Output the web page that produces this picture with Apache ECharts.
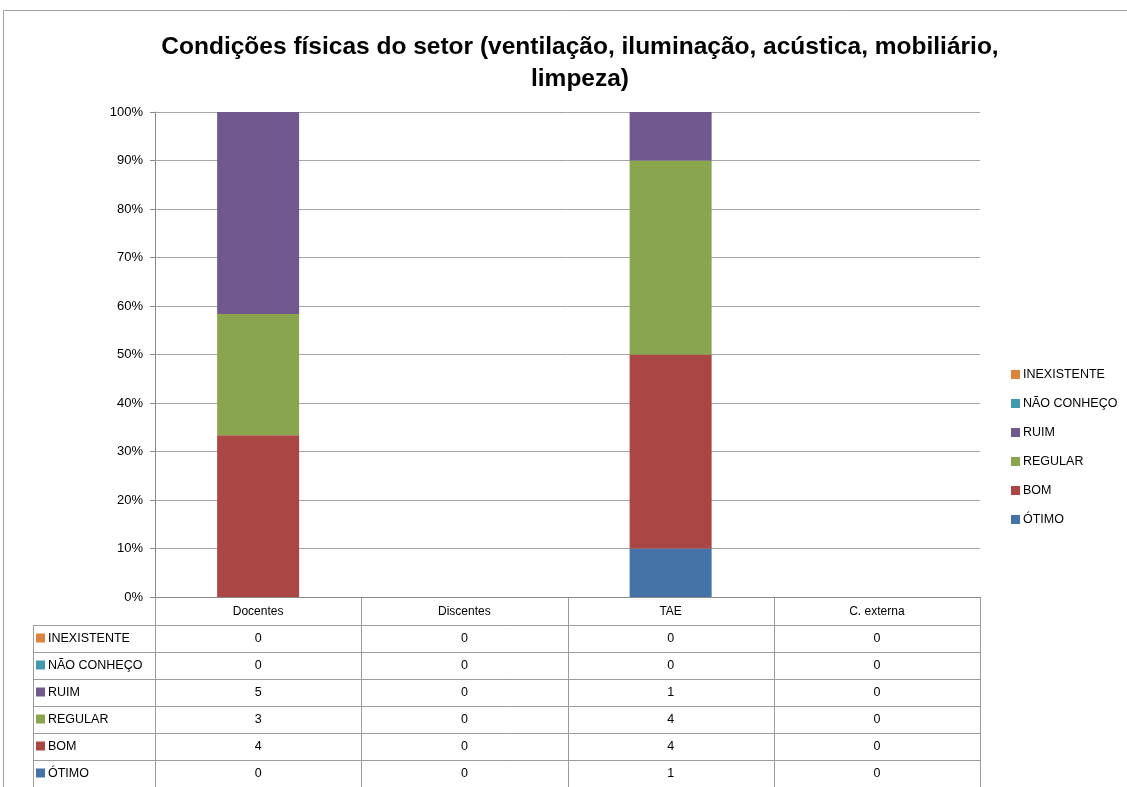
<!DOCTYPE html>
<html><head><meta charset="utf-8">
<script src="https://cdn.jsdelivr.net/npm/echarts@6/dist/echarts.min.js"></script>
<style>html,body{margin:0;padding:0;background:#fff}#chart{width:1127px;height:787px}</style>
</head><body><div id="chart"></div>
<script>
// Categories and response counts per rating
const categories = ['Docentes', 'Discentes', 'TAE', 'C. externa'];
const otimo = [0, 0, 1, 0];
const bom = [4, 0, 4, 0];
const regular = [3, 0, 4, 0];
const ruim = [5, 0, 1, 0];
const naoConheco = [0, 0, 0, 0];
const inexistente = [0, 0, 0, 0];
const yTickLabels = ['0%', '10%', '20%', '30%', '40%', '50%', '60%', '70%', '80%', '90%', '100%'];

// Stack order bottom to top
const ratings = [
  { name: 'ÓTIMO', values: otimo, color: '#4572A7' },
  { name: 'BOM', values: bom, color: '#AA4643' },
  { name: 'REGULAR', values: regular, color: '#89A54E' },
  { name: 'RUIM', values: ruim, color: '#71588F' },
  { name: 'NÃO CONHEÇO', values: naoConheco, color: '#4198AF' },
  { name: 'INEXISTENTE', values: inexistente, color: '#DB843D' }
];

const FONT = '"Liberation Sans", Arial, sans-serif';
const LINE = '#9c9c9c';

const totals = categories.map((_, i) => ratings.reduce((s, r) => s + r.values[i], 0));
const pct = (v, i) => totals[i] ? v / totals[i] * 100 : 0;

const chart = echarts.init(document.getElementById('chart'), null, { renderer: 'canvas' });

const option = {
  animation: false,
  backgroundColor: '#fff',
  title: {
    text: 'Condições físicas do setor (ventilação, iluminação, acústica, mobiliário,\nlimpeza)',
    left: 575, top: 26, textAlign: 'center',
    textStyle: { fontFamily: FONT, fontWeight: 'bold', fontSize: 24.5, lineHeight: 32, color: '#000' }
  },
  legend: {
    orient: 'vertical', left: 1006, top: 363,
    itemWidth: 9, itemHeight: 9, itemGap: 16,
    icon: 'rect',
    data: ratings.slice().reverse().map(r => r.name),
    textStyle: { fontFamily: FONT, fontSize: 12.5, color: '#000', padding: [0, 0, 0, -2] }
  },
  grid: { left: 155, right: 147, top: 112, bottom: 190, containLabel: false },
  xAxis: {
    type: 'category', data: categories,
    axisLine: { show: true, lineStyle: { color: '#8a8a8a', width: 1 } },
    axisTick: { show: false },
    axisLabel: { fontFamily: FONT, fontSize: 12, color: '#000', margin: 9 }
  },
  yAxis: {
    type: 'value', min: 0, max: 100, interval: 10,
    axisLine: { show: true, lineStyle: { color: '#8a8a8a' } },
    axisTick: { show: true, inside: false, length: 5, lineStyle: { color: '#8a8a8a' } },
    splitLine: { lineStyle: { color: '#a6a6a6', width: 1 } },
    axisLabel: { fontFamily: FONT, fontSize: 13, color: '#000', margin: 12,
      formatter: v => yTickLabels[Math.round(v / 10)] }
  },
  series: ratings.map(r => ({
    name: r.name, type: 'bar', stack: 'total', barWidth: 82,
    itemStyle: { color: r.color },
    data: r.values.map((v, i) => pct(v, i))
  }))
};
chart.setOption(option);

// Data table below the plot, aligned to category columns
(function drawTable() {
  const c0 = chart.convertToPixel({ xAxisIndex: 0 }, 0);
  const c1 = chart.convertToPixel({ xAxisIndex: 0 }, 1);
  const band = c1 - c0;
  const edges = categories.map((_, i) => c0 - band / 2 + i * band);
  edges.push(c0 - band / 2 + categories.length * band);
  const yTop = chart.convertToPixel({ yAxisIndex: 0 }, 0);
  const headerH = 28, rowH = 27;
  const tableLeft = 33;
  const rows = ratings.slice().reverse();
  const firstRowY = yTop + headerH;
  const bottomY = firstRowY + rows.length * rowH;
  const els = [];
  const line = (x1, y1, x2, y2) => els.push({ type: 'line', shape: { x1, y1, x2, y2 }, style: { stroke: LINE, lineWidth: 1 }, silent: true });

  edges.forEach((x) => line(Math.round(x) + 0.5, yTop, Math.round(x) + 0.5, bottomY));
  line(tableLeft + 0.5, firstRowY, tableLeft + 0.5, bottomY);
  for (let k = 0; k <= rows.length; k++) {
    const y = Math.round(firstRowY + k * rowH) + 0.5;
    line(tableLeft, y, edges[edges.length - 1], y);
  }
  rows.forEach((r, k) => {
    const cy = firstRowY + k * rowH + rowH / 2;
    els.push({ type: 'rect', shape: { x: tableLeft + 3, y: cy - 5, width: 9, height: 9 }, style: { fill: r.color }, silent: true });
    els.push({ type: 'text', x: tableLeft + 15, y: cy, style: { text: r.name, fontFamily: FONT, fontSize: 12.5, fill: '#000', verticalAlign: 'middle', align: 'left' }, silent: true });
    r.values.forEach((v, i) => {
      els.push({ type: 'text', x: (edges[i] + edges[i + 1]) / 2, y: cy, style: { text: String(v), fontFamily: FONT, fontSize: 12.5, fill: '#000', verticalAlign: 'middle', align: 'center' }, silent: true });
    });
  });
  // outer chart frame
  els.push({ type: 'polyline', shape: { points: [[3.5, 787], [3.5, 10.5], [1127, 10.5]] }, style: { stroke: '#a0a0a0', lineWidth: 1, fill: null }, silent: true });
  chart.setOption({ graphic: els });
})();
</script>
</body></html>
